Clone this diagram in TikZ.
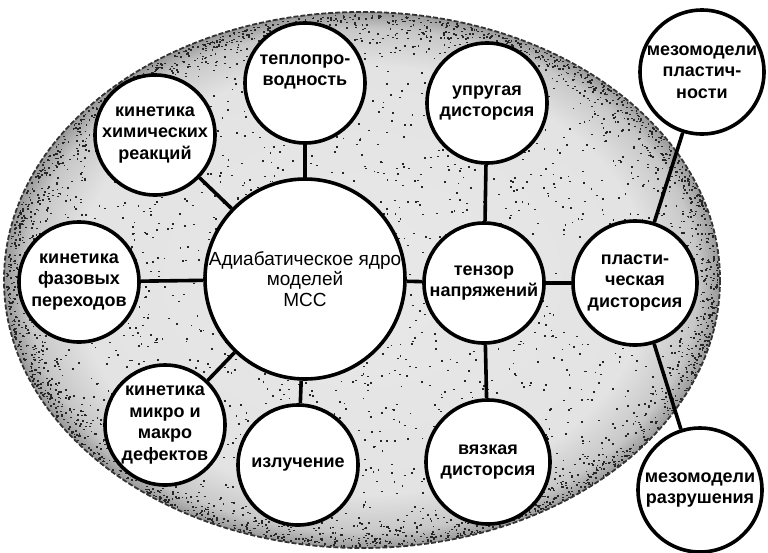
\documentclass[tikz,border=0pt]{standalone}
\usepackage{fontspec}
\setmainfont{Liberation Sans}
\pgfdeclarelayer{back}
\pgfdeclarelayer{mid}
\pgfsetlayers{back,mid,main}
\pgfdeclareradialshading{ringshade}{\pgfpoint{0bp}{0bp}}{color(0bp)=(black!9); color(20bp)=(black!11); color(23.5bp)=(black!22); color(25bp)=(black!40); color(50bp)=(black!40)}
\begin{document}
\begin{tikzpicture}[x=1pt,y=-1pt,
  bub/.style={circle, draw, line width=3.6pt, fill=white, minimum size=120pt, inner sep=0pt, align=center,
    font=\bfseries\fontsize{18}{21.5}\selectfont},
  corebub/.style={bub, minimum size=200pt, font=\fontsize{19}{20.5}\selectfont},
  link/.style={line width=3.6pt},
  speck/.style={fill=black!85}]
\useasboundingbox (0,0) rectangle (768,552);
\begin{pgfonlayer}{back}
  \path[shading=ringshade] (362,280) ellipse [x radius=358, y radius=268];
  \pgfmathsetseed{7}
  \foreach \i in {1,...,2000}{
    \pgfmathsetmacro\ang{360*rnd}
    \pgfmathsetmacro\rr{sqrt(rnd)}
    \fill[speck] ({362+355*\rr*cos(\ang)},{280+265*\rr*sin(\ang)}) rectangle ++(1.8,1.5);
  }
  \foreach \i in {1,...,2200}{
    \pgfmathsetmacro\ang{360*rnd}
    \pgfmathsetmacro\rr{1-0.13*rnd*rnd}
    \fill[speck] ({362+356*\rr*cos(\ang)},{280+266*\rr*sin(\ang)}) rectangle ++(1.8,1.5);
  }
  \draw[black!80, line width=1.8pt, dash pattern=on 5pt off 2pt] (362,280) ellipse [x radius=358, y radius=268];
\end{pgfonlayer}
\node[corebub] (core) at (305,279) {Адиабатическое ядро\\моделей\\МСС};
\node[bub] (teplo) at (305,83) {теплопро-\\водность\\[4pt]};
\node[bub] (chem) at (155,135) {кинетика\\химических\\реакций};
\node[bub] (phase) at (79,282) {кинетика\\фазовых\\переходов};
\node[bub] (defects) at (165,425) {кинетика\\микро и\\макро\\дефектов};
\node[bub] (rad) at (298,465) {излучение};
\node[bub] (tensor) at (484,283) {тензор\\напряжений};
\node[bub] (elastic) at (487,103) {упругая\\дисторсия};
\node[bub, minimum size=124pt] (plastic) at (635,283) {пласти-\\ческая\\дисторсия};
\node[bub, minimum size=124pt] (viscous) at (488,462) {вязкая\\дисторсия};
\node[bub, minimum size=124pt] (mezoP) at (702,72) {мезомодели\\пластич-\\ности};
\node[bub, minimum size=124pt] (mezoF) at (700,490) {мезомодели\\разрушения};
\begin{pgfonlayer}{mid}
  \draw[link] (core) -- (teplo);
  \draw[link] (core) -- (chem);
  \draw[link] (core) -- (phase);
  \draw[link] (core) -- (defects);
  \draw[link] (core) -- (rad);
  \draw[link] (core) -- (tensor);
  \draw[link] (tensor) -- (elastic);
  \draw[link] (tensor) -- (viscous);
  \draw[link] (tensor) -- (plastic);
  \draw[link] (plastic) -- (mezoP);
  \draw[link] (plastic) -- (mezoF);
\end{pgfonlayer}
\end{tikzpicture}
\end{document}
